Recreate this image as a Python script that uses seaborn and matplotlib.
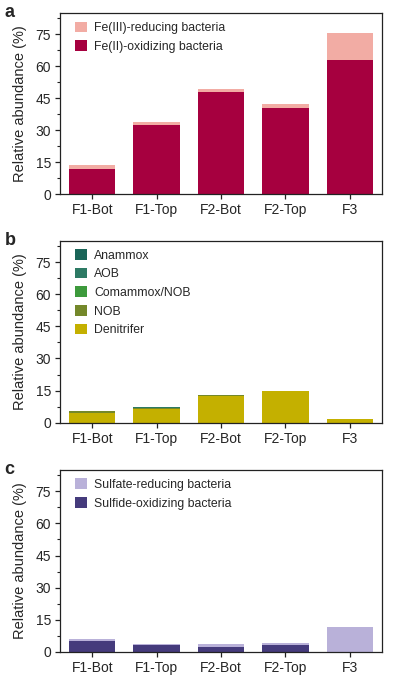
"""
Stacked relative abundance bars for Fe, N and S cycling bacteria (three panels)
"""
import matplotlib
matplotlib.use("Agg")
import matplotlib.pyplot as plt
import numpy as np
import pandas as pd
import seaborn as sns
from matplotlib.patches import Patch
from matplotlib.ticker import MultipleLocator

sites = ['F1-Bot', 'F1-Top', 'F2-Bot', 'F2-Top', 'F3']

# panel a
fe_oxidizing = [12.0, 32.5, 48.0, 40.5, 63.0]
fe_reducing = [1.8, 1.3, 1.5, 2.0, 12.5]

# panel b
denitrifer = [4.7, 6.5, 12.7, 14.8, 1.6]
nob = [0.6, 0.5, 0.2, 0.1, 0.1]
comammox = [0.0, 0.0, 0.0, 0.0, 0.0]
aob = [0.2, 0.2, 0.1, 0.05, 0.05]
anammox = [0.0, 0.0, 0.0, 0.0, 0.0]

# panel c
sulfide_oxidizing = [5.3, 3.0, 2.5, 3.0, 0.0]
sulfate_reducing = [0.6, 0.5, 1.0, 1.3, 11.8]

sns.set_style('ticks')
plt.rcParams['font.family'] = ['Liberation Sans', 'DejaVu Sans']


def stacked_panel(fig, ax, layers, letter):
	"""
	Draws bottom-to-top stacked bars by overplotting cumulative sums
	:param layers: list of (label, values, colour), bottom layer first
	"""
	cumulative = np.cumsum([np.array(v, dtype=float) for _, v, _ in layers], axis=0)
	for i in range(len(layers) - 1, -1, -1):
		frame = pd.DataFrame({'site': sites, 'value': cumulative[i]})
		sns.barplot(data=frame, x='site', y='value', color=layers[i][2], width=0.72,
					saturation=1, edgecolor='none', linewidth=0, ax=ax)
	handles = [Patch(facecolor=c, edgecolor='none', label=l) for l, _, c in reversed(layers)]
	ax.legend(handles=handles, loc='upper left', frameon=False, fontsize=8.8,
			  handlelength=0.95, handleheight=0.95, handletextpad=0.6,
			  labelspacing=0.5, borderaxespad=0.3, bbox_to_anchor=(0.02, 1.0))
	ax.set_xlim(-0.5, 4.5)
	ax.set_ylim(0, 85)
	ax.yaxis.set_major_locator(MultipleLocator(15))
	ax.yaxis.set_minor_locator(MultipleLocator(7.5))
	ax.set_xlabel('')
	ax.set_ylabel('Relative abundance (%)', fontsize=10.5, labelpad=6)
	ax.tick_params(axis='both', labelsize=10, length=3.5, width=0.9, color='#222222', pad=3)
	ax.tick_params(axis='y', which='minor', length=2.2, width=0.8, color='#222222')
	for side in ax.spines.values():
		side.set_linewidth(0.9)
		side.set_color('#222222')
	box = ax.get_position()
	fig.text(0.012, box.y1, letter, fontsize=13, fontweight='bold', va='center', ha='left')


fig = plt.figure(figsize=(3.95, 6.84), dpi=100)
ax_a = fig.add_axes([0.152, 0.716, 0.815, 0.265])
ax_b = fig.add_axes([0.152, 0.382, 0.815, 0.266])
ax_c = fig.add_axes([0.152, 0.047, 0.815, 0.266])

stacked_panel(fig, ax_a, [
	('Fe(II)-oxidizing bacteria', fe_oxidizing, '#a6003f'),
	('Fe(III)-reducing bacteria', fe_reducing, '#f2aca4'),
], 'a')

stacked_panel(fig, ax_b, [
	('Denitrifer', denitrifer, '#c4b000'),
	('NOB', nob, '#74882a'),
	('Comammox/NOB', comammox, '#3d9a3c'),
	('AOB', aob, '#2d7a64'),
	('Anammox', anammox, '#1a6558'),
], 'b')

stacked_panel(fig, ax_c, [
	('Sulfide-oxidizing bacteria', sulfide_oxidizing, '#453b7c'),
	('Sulfate-reducing bacteria', sulfate_reducing, '#b9b1d9'),
], 'c')

fig.savefig('out.png', dpi=100)
